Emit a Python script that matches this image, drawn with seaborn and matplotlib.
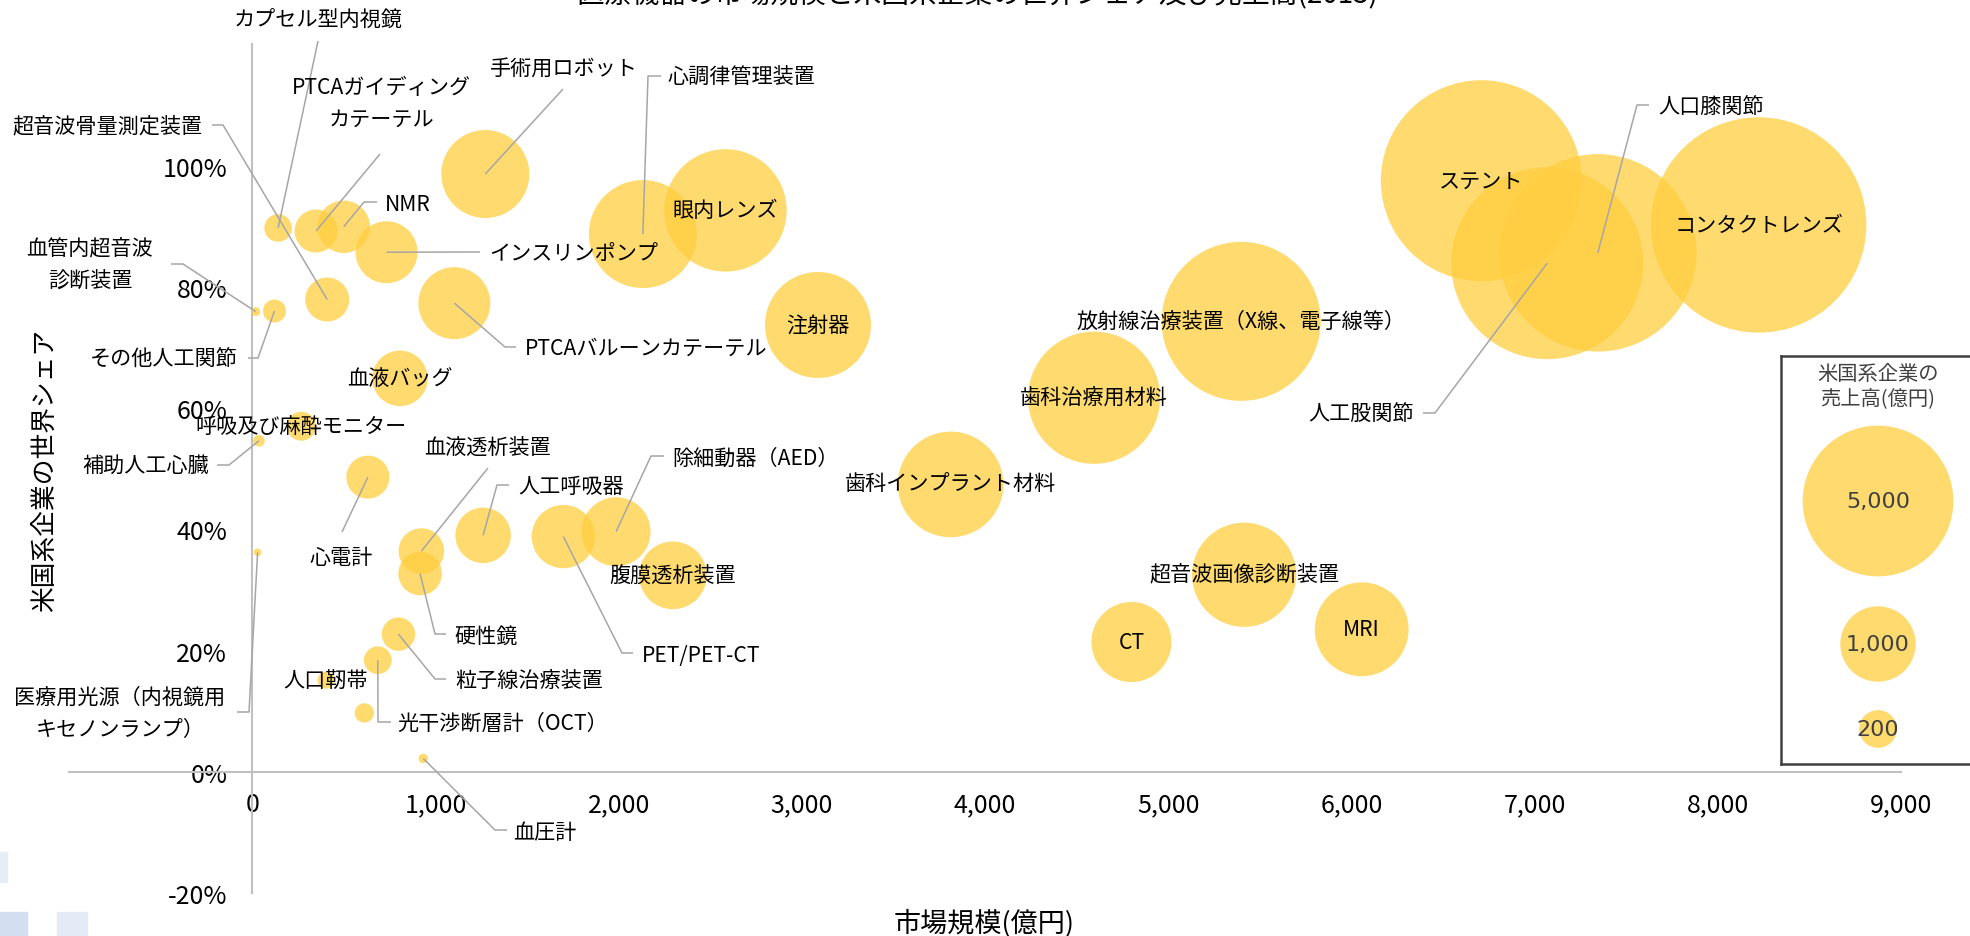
import matplotlib
matplotlib.use("Agg")
import matplotlib.pyplot as plt
import matplotlib.colors as mcolors
from matplotlib.patches import Rectangle
from matplotlib.ticker import FuncFormatter, PercentFormatter
import pandas as pd
import seaborn as sns

# ---------------- data ----------------
products = [
    "カプセル型内視鏡", "PTCAガイディング\nカテーテル", "NMR", "インスリンポンプ",
    "手術用ロボット", "心調律管理装置", "超音波骨量測定装置", "血管内超音波\n診断装置",
    "その他人工関節", "PTCAバルーンカテーテル", "血液バッグ", "呼吸及び麻酔モニター",
    "補助人工心臓", "心電計", "血液透析装置", "硬性鏡", "人工呼吸器", "PET/PET-CT",
    "除細動器（AED）", "腹膜透析装置", "歯科インプラント材料", "歯科治療用材料",
    "放射線治療装置（X線、電子線等）", "超音波画像診断装置", "CT", "MRI", "ステント",
    "人工股関節", "人口膝関節", "コンタクトレンズ", "眼内レンズ", "注射器",
    "粒子線治療装置", "光干渉断層計（OCT）", "人口靭帯", "", "血圧計",
    "医療用光源（内視鏡用\nキセノンランプ）",
]
# market size (億円)
market_size = [
    141, 348, 499, 733, 1272, 2132, 409, 19,
    121, 1103, 806, 268, 36, 631, 923, 916, 1260, 1698,
    1986, 2296, 3812, 4595, 5398, 5414, 4799, 6056, 6709,
    7069, 7345, 8223, 2583, 3088, 798, 685, 402, 612, 933, 29,
]
# world share of US companies
us_share = [
    0.897, 0.892, 0.899, 0.857, 0.986, 0.887, 0.779, 0.759,
    0.760, 0.773, 0.649, 0.570, 0.546, 0.486, 0.364, 0.327, 0.390, 0.388,
    0.396, 0.324, 0.474, 0.617, 0.743, 0.325, 0.214, 0.235, 0.975,
    0.839, 0.856, 0.902, 0.926, 0.737, 0.227, 0.184, 0.151, 0.097, 0.022, 0.362,
]
# sales of US companies (億円)
us_sales = [
    96, 271, 430, 634, 1431, 2304, 285, 7,
    63, 897, 490, 108, 13, 271, 310, 278, 490, 665,
    812, 778, 2187, 3688, 5664, 2120, 1147, 1660, 9770,
    8782, 9377, 11475, 3083, 2206, 150, 98, 31, 42, 8, 5,
]
legend_sales = [5000, 1000, 200]
legend_labels = ["5,000", "1,000", "200"]
x_ticks = [0, 1000, 2000, 3000, 4000, 5000, 6000, 7000, 8000, 9000]
y_ticks = [-0.2, 0.0, 0.2, 0.4, 0.6, 0.8, 1.0]

title_text = "医療機器の市場規模と米国系企業の世界シェア及び売上高(2013)"
x_title = "市場規模(億円)"
y_title = "米国系企業の世界シェア"
legend_title = "米国系企業の\n売上高(億円)"

# ---------------- layout (figure pixels, origin top-left) ----------------
W, H = 1970, 937
# label: (text x, text y, ha, leader anchor x, leader anchor y, elbow length)
CENTER = "center"
LABEL_LAYOUT = {
    "カプセル型内視鏡": (318, 21, "center", 318, 42, 0),
    "PTCAガイディング\nカテーテル": (381, 104, "center", 380, 155, 0),
    "NMR": (385, 205, "left", 377, 203, -13),
    "インスリンポンプ": (489, 254, "left", 480, 253, -12),
    "手術用ロボット": (564, 70, "center", 563, 90, 0),
    "心調律管理装置": (668, 78, "left", 661, 77, -13),
    "超音波骨量測定装置": (203, 127, "right", 212, 126, 11),
    "血管内超音波\n診断装置": (90, 266, "center", 171, 265, 12),
    "その他人工関節": (238, 360, "right", 248, 359, 10),
    "PTCAバルーンカテーテル": (525, 349, "left", 516, 348, -11),
    "血液バッグ": CENTER,
    "呼吸及び麻酔モニター": CENTER,
    "補助人工心臓": (209, 466, "right", 217, 466, 12),
    "心電計": (341, 558, "center", 342, 533, 0),
    "血液透析装置": (488, 449, "center", 488, 469, 0),
    "硬性鏡": (454, 637, "left", 446, 635, -11),
    "人工呼吸器": (518, 487, "left", 509, 486, -12),
    "PET/PET-CT": (642, 656, "left", 633, 654, -11),
    "除細動器（AED）": (672, 459, "left", 664, 457, -13),
    "腹膜透析装置": CENTER,
    "歯科インプラント材料": CENTER,
    "歯科治療用材料": CENTER,
    "放射線治療装置（X線、電子線等）": CENTER,
    "超音波画像診断装置": CENTER,
    "CT": CENTER,
    "MRI": CENTER,
    "ステント": CENTER,
    "人工股関節": (1414, 415, "right", 1423, 414, 12),
    "人口膝関節": (1658, 107, "left", 1649, 106, -12),
    "コンタクトレンズ": CENTER,
    "眼内レンズ": CENTER,
    "注射器": CENTER,
    "粒子線治療装置": (455, 681, "left", 446, 680, -11),
    "光干渉断層計（OCT）": (397, 724, "left", 391, 723, -13),
    "人口靭帯": CENTER,
    "血圧計": (513, 833, "left", 507, 831, -12),
    "医療用光源（内視鏡用\nキセノンランプ）": (120, 714, "center", 237, 713, 12),
}
LEGEND_X = 1878
LEGEND_Y = [502, 645, 730]

BUBBLE = "#FFCE3F"
BUBBLE_ALPHA = 0.75
LEADER = "#A6A6A6"
AXIS_LINE = "#C0C0C0"
DARK = "#404040"

# ---------------- style ----------------
sns.set_style("white")
plt.rcParams["font.family"] = ["Noto Sans CJK JP", "DejaVu Sans"]
plt.rcParams["axes.unicode_minus"] = False

fig = plt.figure(figsize=(W / 100, H / 100), dpi=100)


def fig_rect(x0, y0, x1, y1):
    """Figure-fraction rectangle from pixel box (top-left origin)."""
    return [x0 / W, 1 - y1 / H, (x1 - x0) / W, (y1 - y0) / H]


ax = fig.add_axes(fig_rect(69.1, 45.3, 1901.0, 894.0))
ax.set_xlim(-1000, 9000)
ax.set_ylim(-0.2, 1.2)

# bubble size scale shared by chart and key
ref_value, ref_diam_px = 5000, 150.7
size_vmax = 12000
size_norm = mcolors.PowerNorm(gamma=0.86, vmin=0, vmax=size_vmax)
s_max = (ref_diam_px * 0.72) ** 2 * (size_vmax / ref_value) ** 0.86

df = pd.DataFrame({"product": products, "market": market_size,
                   "share": us_share, "sales": us_sales})
sns.scatterplot(data=df, x="market", y="share", size="sales",
                sizes=(0, s_max), size_norm=size_norm, color=BUBBLE,
                alpha=BUBBLE_ALPHA, linewidth=0, legend=False, ax=ax, zorder=2)

# axes crossing at the origin
for side in ["top", "right"]:
    ax.spines[side].set_visible(False)
ax.spines["left"].set_position(("data", 0))
ax.spines["bottom"].set_position(("data", 0))
for side in ["left", "bottom"]:
    ax.spines[side].set_color(AXIS_LINE)
    ax.spines[side].set_linewidth(1.5)
    ax.spines[side].set_zorder(1)
ax.set_xticks(x_ticks)
ax.set_yticks(y_ticks)
ax.xaxis.set_major_formatter(FuncFormatter(lambda v, p: f"{v:,.0f}"))
ax.yaxis.set_major_formatter(PercentFormatter(1.0, decimals=0))
ax.tick_params(axis="both", length=0, labelsize=18, colors="black")
ax.tick_params(axis="x", pad=14)
ax.tick_params(axis="y", pad=18)
ax.set_xlabel("")
ax.set_ylabel("")
ax.grid(False)


def px_to_data(px, py):
    return ax.transData.inverted().transform((px, H - py))


LABEL_FS = 15.2
for name, mx, sh in zip(products, market_size, us_share):
    lay = LABEL_LAYOUT.get(name)
    if lay is None:
        continue
    if lay == CENTER:
        ax.text(mx, sh, name, ha="center", va="center", fontsize=LABEL_FS,
                color="black", zorder=5)
        continue
    tx, ty, ha, lx, ly, elbow = lay
    tdx, tdy = px_to_data(tx, ty)
    ax.text(tdx, tdy, name, ha=ha, va="center", multialignment="center",
            fontsize=LABEL_FS, color="black", linespacing=1.6, zorder=5)
    ex, ey = px_to_data(lx, ly)
    kx, ky = px_to_data(lx + elbow, ly)
    ax.plot([mx, kx, ex], [sh, ky, ey], color=LEADER, lw=1.1,
            solid_capstyle="butt", clip_on=False, zorder=4)

# axis titles
fig.text(984 / W, 1 - 924 / H, x_title, ha="center", va="center",
         fontsize=19.5, color="black")
fig.text(45 / W, 1 - 470 / H, y_title, ha="center", va="center",
         rotation=90, fontsize=18.5, color="black")

# chart title (runs off the top edge)
fig.text(977 / W, 1 - 3.5 / H, title_text, ha="center", va="baseline",
         fontsize=20, color="black")

# ---------------- size key ----------------
lax = fig.add_axes(fig_rect(1781, 357, 1995, 765))
leg_df = pd.DataFrame({"x": [LEGEND_X] * len(legend_sales), "y": LEGEND_Y,
                       "sales": legend_sales})
sns.scatterplot(data=leg_df, x="x", y="y", size="sales", sizes=(0, s_max),
                size_norm=size_norm, color=BUBBLE, alpha=BUBBLE_ALPHA,
                linewidth=0, legend=False, ax=lax, zorder=2)
lax.set_xlim(1781, 1995)
lax.set_ylim(765, 357)
lax.set_xticks([])
lax.set_yticks([])
lax.set_xlabel("")
lax.set_ylabel("")
lax.set_facecolor("white")
for sp in lax.spines.values():
    sp.set_color(DARK)
    sp.set_linewidth(1.8)
for lbl, yy in zip(legend_labels, LEGEND_Y):
    lax.text(LEGEND_X, yy, lbl, ha="center", va="center", fontsize=16,
             color=DARK, family=["DejaVu Sans"], zorder=3)
lax.text(LEGEND_X, 387, legend_title, ha="center", va="center", fontsize=14.6,
         color=DARK, linespacing=1.2, zorder=3)

# slide decoration squares in the lower-left corner
for (x0, y0, x1, y1), col in [((0, 853, 7, 883), "#E6EDF7"),
                               ((0, 913, 27, 937), "#D3DEF0"),
                               ((57, 913, 87, 937), "#E4EBF6")]:
    fig.add_artist(Rectangle((x0 / W, 1 - y1 / H), (x1 - x0) / W, (y1 - y0) / H,
                             transform=fig.transFigure, color=col, zorder=0))

fig.savefig("out.png", dpi=100, facecolor="white")
